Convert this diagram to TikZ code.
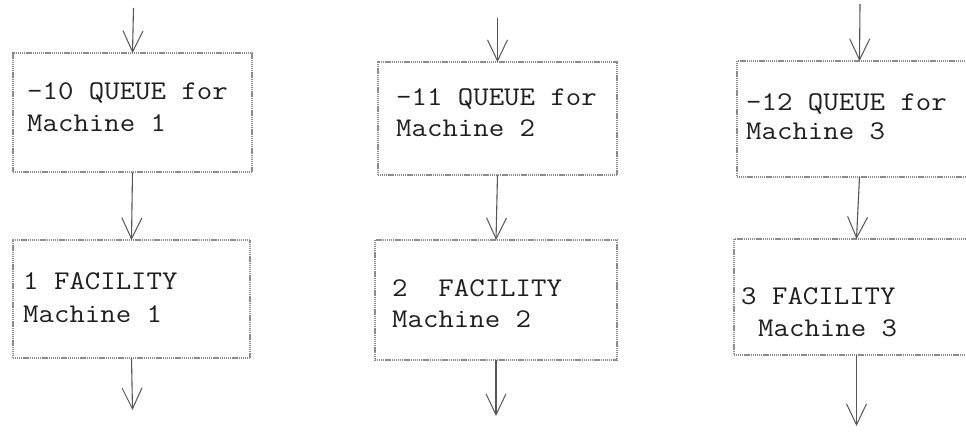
\documentclass[tikz,border=0pt]{standalone}
\usepackage{fontspec}
\usetikzlibrary{arrows.meta}
\definecolor{ink}{HTML}{1E1E1E}
\definecolor{dot}{HTML}{8C8C8C}
\newcommand\twtext{\ttfamily\fontsize{27}{32}\selectfont}
\newcommand\sx[1]{\scalebox{1.11}[1]{#1}}
\tikzset{
  boxq/.style={draw=dot, line width=1.8pt, dash pattern=on 1.2pt off 0.7pt, inner sep=0pt, outer sep=0pt},
  lbl/.style={anchor=base west, inner sep=0pt, text=ink, font=\twtext},
  flow/.style={draw=ink!75, line width=1.1pt, -{Straight Barb[length=21pt,width=20pt,line width=1pt]}}
}
\begin{document}
\begin{tikzpicture}[x=1pt,y=-1pt]
\clip (0,0) rectangle (966,435);
\fill[white] (0,0) rectangle (966,435);
% column 1
\node[boxq, minimum width=239pt, minimum height=119pt] (q1) at (132.5,112.5) {};
\node[boxq, minimum width=237pt, minimum height=118pt] (f1) at (131.5,299) {};
\node[lbl] (q1a) at (27,100) {\sx{-10 QUEUE for}};
\node[lbl] (q1b) at (27,132) {\sx{Machine 1}};
\node[lbl] (f1a) at (23,290) {\sx{1 FACILITY}};
\node[lbl] (f1b) at (23,323) {\sx{Machine 1}};
\coordinate (in1) at (133.5,8);
\coordinate (out1) at (132.5,410);
\draw[flow] (in1) -- (q1.north);
\draw[flow] (q1.south) -- (f1.north);
\draw[flow] (f1.south) -- (out1);
% column 2
\node[boxq, minimum width=239pt, minimum height=113pt] (q2) at (497.5,118.5) {};
\node[boxq, minimum width=242pt, minimum height=120pt] (f2) at (496,300) {};
\node[lbl] (q2a) at (396,106) {\sx{-11 QUEUE for}};
\node[lbl] (q2b) at (396,137) {\sx{Machine 2}};
\node[lbl] (f2a) at (392,297) {\sx{2\ \ FACILITY}};
\node[lbl] (f2b) at (392,328) {\sx{Machine 2}};
\coordinate (in2) at (497.5,18);
\coordinate (out2) at (496,416);
\draw[flow] (in2) -- (q2.north);
\draw[flow] (q2.south) -- (f2.north);
\draw[flow] (f2.south) -- (out2);
% column 3
\node[boxq, minimum width=245pt, minimum height=116pt] (q3) at (859.5,119) {};
\node[boxq, minimum width=245pt, minimum height=116pt] (f3) at (856.5,297) {};
\node[lbl] (q3a) at (746,111) {\sx{-12 QUEUE for}};
\node[lbl] (q3b) at (746,140) {\sx{Machine 3}};
\node[lbl] (f3a) at (741,305) {\sx{3 FACILITY}};
\node[lbl] (f3b) at (758,337) {\sx{Machine 3}};
\coordinate (in3) at (860,4);
\coordinate (out3) at (856.5,426);
\draw[flow] (in3) -- (q3.north);
\draw[flow] (q3.south) -- (f3.north);
\draw[flow] (f3.south) -- (out3);
\end{tikzpicture}
\end{document}
